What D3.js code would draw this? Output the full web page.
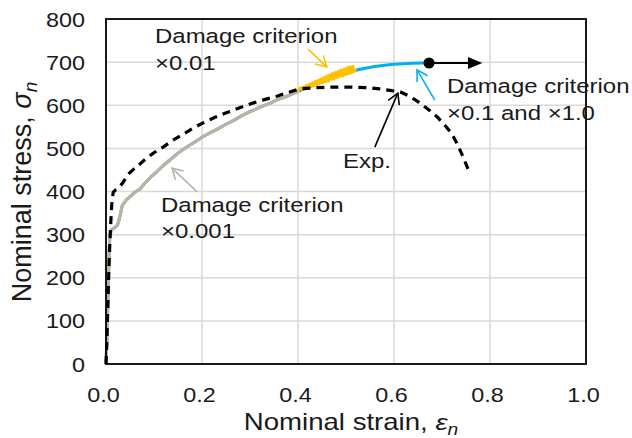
<!DOCTYPE html>
<html><head><meta charset="utf-8">
<script src="https://cdn.jsdelivr.net/npm/d3@7"></script>
<style>body{margin:0;background:#fff}</style>
</head><body>
<svg id="c" width="632" height="438"></svg>
<script>
// ---- data ----
const xTicks = [0, 0.2, 0.4, 0.6, 0.8, 1.0];
const yTicks = [0, 100, 200, 300, 400, 500, 600, 700, 800];

// Experimental curve
const expStrain = [0, 0.002, 0.004, 0.006, 0.008, 0.010, 0.012, 0.015, 0.020, 0.027, 0.035, 0.046, 0.058, 0.071, 0.085, 0.1, 0.119, 0.138, 0.158, 0.18, 0.202, 0.225, 0.252, 0.28, 0.306, 0.33, 0.356, 0.38, 0.404, 0.44, 0.473, 0.51, 0.544, 0.57, 0.595, 0.615, 0.63, 0.645, 0.66, 0.675, 0.69, 0.705, 0.72, 0.731, 0.744, 0.755];
const expStress = [0, 60, 140, 220, 280, 330, 370, 398, 404, 410, 420, 440, 452, 464, 478, 490, 503, 518, 531, 546, 559, 571, 583, 595, 605, 613, 621, 630, 638, 641, 642, 642, 641, 638, 634, 630, 622, 612, 600, 587, 573, 555, 535, 512, 480, 450];

// Simulation, damage criterion x0.001 (common path of all simulations)
const simStrain = [0, 0.002, 0.004, 0.006, 0.008, 0.012, 0.018, 0.024, 0.029, 0.034, 0.042, 0.05, 0.06, 0.071, 0.08, 0.092, 0.105, 0.117, 0.133, 0.15, 0.165, 0.181, 0.2, 0.215, 0.231, 0.25, 0.268, 0.285, 0.3, 0.32, 0.342, 0.36, 0.375, 0.39, 0.40];
const simStress = [0, 60, 150, 240, 300, 312, 316, 322, 342, 368, 380, 388, 398, 406, 418, 432, 445, 458, 473, 489, 501, 512, 526, 535, 544, 556, 566, 577, 585, 595, 605, 614, 620, 627, 632];

// Extension for damage criterion x0.01 (oscillating)
const dc001Strain = [0.403, 0.406, 0.409, 0.412, 0.415, 0.418, 0.421, 0.424, 0.427, 0.430, 0.433, 0.436, 0.439, 0.442, 0.445, 0.448, 0.451, 0.454, 0.457, 0.460, 0.463, 0.466, 0.469, 0.472, 0.475, 0.478, 0.481, 0.484, 0.487, 0.490, 0.493, 0.496, 0.499, 0.502, 0.505, 0.508, 0.511, 0.514, 0.517, 0.520];
const dc001Stress = [638, 641, 637, 643, 640, 646, 641, 649, 644, 652, 645, 655, 648, 658, 650, 661, 652, 664, 655, 668, 656, 670, 660, 674, 661, 676, 664, 679, 667, 682, 668, 684, 671, 687, 673, 689, 675, 690, 678, 684];

// Extension for damage criterion x0.1 and x1.0
const dc01Strain = [0.44, 0.48, 0.52, 0.54, 0.56, 0.58, 0.60, 0.62, 0.64, 0.66, 0.673];
const dc01Stress = [650, 667, 681, 686, 690, 693, 695, 696.5, 697.5, 698, 698];

const failStrain = 0.673, failStress = 698;

// ---- layout ----
const svg = d3.select("#c");
const L = 106, R = 586, T = 19, B = 364;
const x = d3.scaleLinear().domain([0, 1]).range([L, R]);
const y = d3.scaleLinear().domain([0, 800]).range([B, T]);
const FONT = "'Liberation Sans', Arial, sans-serif";
const SX = 1.17;

// grid
const g = svg.append("g");
g.selectAll("line.v").data(xTicks.filter(d => d > 0 && d < 1)).join("line")
  .attr("x1", d => x(d)).attr("x2", d => x(d)).attr("y1", T).attr("y2", B)
  .attr("stroke", "#d9d9d9").attr("stroke-width", 1.5);
g.selectAll("line.h").data(yTicks.filter(d => d > 0 && d < 800)).join("line")
  .attr("x1", L).attr("x2", R).attr("y1", d => y(d)).attr("y2", d => y(d))
  .attr("stroke", "#d9d9d9").attr("stroke-width", 1.5);

// axes via d3
const xAxis = svg.append("g").attr("transform", `translate(0,${B})`)
  .call(d3.axisBottom(x).tickValues(xTicks).tickSize(0).tickFormat(d3.format(".1f")));
const yAxis = svg.append("g").attr("transform", `translate(${L},0)`)
  .call(d3.axisLeft(y).tickValues(yTicks).tickSize(0).tickFormat(d3.format("d")));
[xAxis, yAxis].forEach(a => { a.select(".domain").remove(); });
xAxis.selectAll("text").attr("font-family", FONT).attr("font-size", 20).attr("fill", "#1a1a1a")
  .attr("dy", null).attr("y", 0)
  .attr("transform", d => `translate(-3,38) scale(${SX},1)`);
yAxis.selectAll("text").attr("font-family", FONT).attr("font-size", 20).attr("fill", "#1a1a1a")
  .attr("dy", null).attr("x", 0).attr("y", 0)
  .attr("transform", d => `translate(-21,7) scale(${SX},1)`);

// curves
const line = d3.line().x(d => x(d[0])).y(d => y(d[1]));
const zipper = (a, b) => a.map((v, i) => [v, b[i]]);
const base = zipper(simStrain, simStress);
const blueData = base.concat(zipper(dc01Strain, dc01Stress));
const orangeData = base.concat(zipper(dc001Strain, dc001Stress));

svg.append("path").attr("d", line(blueData)).attr("fill", "none")
  .attr("stroke", "#00b0f0").attr("stroke-width", 3).attr("stroke-linejoin", "round");
svg.append("path").attr("d", line(orangeData)).attr("fill", "none")
  .attr("stroke", "#ffc000").attr("stroke-width", 3).attr("stroke-linejoin", "round");
svg.append("path").attr("d", line(base)).attr("fill", "none")
  .attr("stroke", "#b3b3b3").attr("stroke-width", 3).attr("stroke-linejoin", "round");
svg.append("path").attr("d", line(zipper(expStrain, expStress))).attr("fill", "none")
  .attr("stroke", "#000").attr("stroke-width", 3.2).attr("stroke-dasharray", "8,6")
  .attr("stroke-linejoin", "round");

// plot border
svg.append("rect").attr("x", L).attr("y", T).attr("width", R - L).attr("height", B - T)
  .attr("fill", "none").attr("stroke", "#000").attr("stroke-width", 1.8);

// arrows (in data coordinates)
function openArrow(x0, y0, x1, y1, color, w) {
  const px0 = x(x0), py0 = y(y0), px1 = x(x1), py1 = y(y1);
  svg.append("line").attr("x1", px0).attr("y1", py0).attr("x2", px1).attr("y2", py1)
    .attr("stroke", color).attr("stroke-width", w);
  const ang = Math.atan2(py1 - py0, px1 - px0), len = 12, spread = Math.PI / 6;
  const pts = [
    [px1 - len * Math.cos(ang - spread), py1 - len * Math.sin(ang - spread)],
    [px1, py1],
    [px1 - len * Math.cos(ang + spread), py1 - len * Math.sin(ang + spread)]
  ];
  svg.append("polyline").attr("points", pts.map(p => p.join(",")).join(" "))
    .attr("fill", "none").attr("stroke", color).attr("stroke-width", w);
}
openArrow(0.421, 730, 0.460, 689, "#ffc000", 1.6);
openArrow(0.685, 612, 0.648, 682, "#00b0f0", 1.6);
openArrow(0.560, 503, 0.608, 628, "#000", 1.6);
openArrow(0.190, 399, 0.1375, 454, "#b3b3b3", 1.6);

// failure point and horizontal arrow
const fx = x(failStrain), fy = y(failStress);
svg.append("line").attr("x1", fx).attr("y1", fy).attr("x2", x(0.76)).attr("y2", fy)
  .attr("stroke", "#000").attr("stroke-width", 2);
svg.append("path").attr("d", `M${x(0.784)},${fy} L${x(0.754)},${fy - 6} L${x(0.754)},${fy + 6} Z`).attr("fill", "#000");
svg.append("circle").attr("cx", fx).attr("cy", fy).attr("r", 5.5).attr("fill", "#000");

// annotation text
function label(lines, px, py, dy) {
  lines.forEach((t, i) => {
    svg.append("text").attr("font-family", FONT).attr("font-size", 20.5).attr("fill", "#1a1a1a")
      .attr("transform", `translate(${px},${py + i * dy}) scale(${SX},1)`).text(t);
  });
}
label(["Damage criterion", "\u00d70.01"], 155, 43, 27);
label(["Damage criterion", "\u00d70.1 and \u00d71.0"], 447, 93, 27);
label(["Exp."], 343, 168, 0);
label(["Damage criterion", "\u00d70.001"], 161, 212, 26);

// axis titles
const xt = svg.append("text").attr("font-family", FONT).attr("font-size", 23).attr("fill", "#1a1a1a")
  .attr("text-anchor", "middle").attr("transform", `translate(351,430) scale(1.2,1)`);
xt.append("tspan").text("Nominal strain, ");
xt.append("tspan").attr("font-style", "italic").text("\u03b5");
xt.append("tspan").attr("font-style", "italic").attr("font-size", 16).attr("dy", 5).text("n");

const yt = svg.append("text").attr("font-family", FONT).attr("font-size", 27).attr("fill", "#1a1a1a")
  .attr("text-anchor", "middle").attr("transform", `translate(31,192) rotate(-90)`);
yt.append("tspan").text("Nominal stress, ");
yt.append("tspan").attr("font-style", "italic").text("\u03c3");
yt.append("tspan").attr("font-style", "italic").attr("font-size", 19).attr("dy", 6).text("n");
</script>
</body></html>
